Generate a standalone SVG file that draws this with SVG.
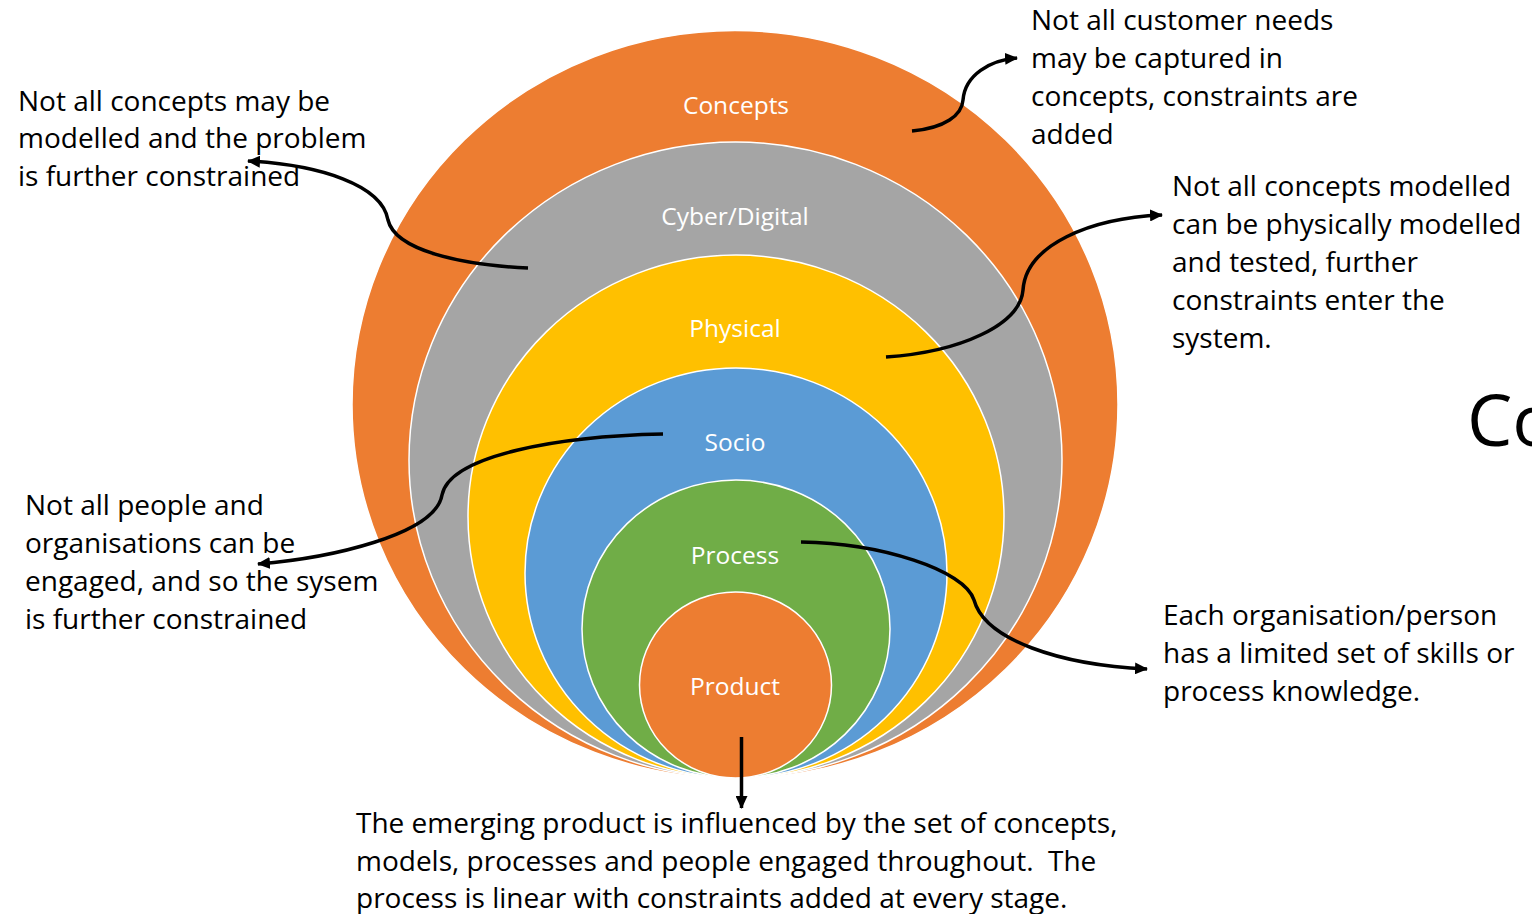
<svg xmlns="http://www.w3.org/2000/svg" width="1532" height="914" viewBox="0 0 1532 914">
<style>
.ring{stroke:#FFFFFF;stroke-width:1.5}
.lbl{font-family:"Open Sans","Liberation Sans",sans-serif;font-size:24.5px;fill:#FFFFFF;text-anchor:middle;dominant-baseline:central}
.note{font-family:"Open Sans","Liberation Sans",sans-serif;font-size:28px;fill:#000000}
.con{fill:none;stroke:#000000;stroke-width:3.5}
</style>
<defs>
<marker id="arr" markerUnits="userSpaceOnUse" markerWidth="14" markerHeight="12" refX="12" refY="6" orient="auto">
<path d="M0,0 L13,6 L0,12 Z" fill="#000000"/>
</marker>
</defs>
<rect width="1532" height="914" fill="#FFFFFF"/>
<g id="concepts">
<ellipse class="ring" cx="735" cy="404.5" rx="383" ry="374" fill="#ED7D31"/>
<text class="lbl" x="736" y="104">Concepts</text>
</g>
<g id="cyber">
<ellipse class="ring" cx="735.5" cy="460" rx="326.5" ry="318" fill="#A5A5A5"/>
<text class="lbl" x="735" y="215">Cyber/Digital</text>
</g>
<g id="physical">
<ellipse class="ring" cx="736" cy="516.5" rx="268" ry="261.5" fill="#FFC000"/>
<text class="lbl" x="735" y="327">Physical</text>
</g>
<g id="socio">
<ellipse class="ring" cx="736" cy="573" rx="211" ry="205" fill="#5B9BD5"/>
<text class="lbl" x="735" y="441">Socio</text>
</g>
<g id="process">
<ellipse class="ring" cx="736" cy="629" rx="154" ry="149" fill="#70AD47"/>
<text class="lbl" x="735" y="554">Process</text>
</g>
<g id="product">
<ellipse class="ring" cx="735.5" cy="685" rx="96" ry="93" fill="#ED7D31"/>
<text class="lbl" x="735" y="685">Product</text>
</g>
<g id="connectors">
<path class="con" marker-end="url(#arr)" d="M912,131 C945,128 962,115 963,100 C965,75 990,60 1017,58"/>
<path class="con" marker-end="url(#arr)" d="M528,268 C460,265 395,250 388,220 C382,185 320,165 248,161"/>
<path class="con" marker-end="url(#arr)" d="M886,357 C960,352 1020,325 1023,290 C1026,245 1090,218 1162,215"/>
<path class="con" marker-end="url(#arr)" d="M663,434 C560,436 450,455 442,495 C435,535 330,558 258,564"/>
<path class="con" marker-end="url(#arr)" d="M801,542 C880,543 965,570 974,600 C985,640 1060,665 1147,669"/>
<path class="con" marker-end="url(#arr)" d="M741.5,737 L741.5,808"/>
</g>
<g id="note-customer">
<text class="note" x="1031" y="30">Not all customer needs</text>
<text class="note" x="1031" y="68">may be captured in</text>
<text class="note" x="1031" y="106">concepts, constraints are</text>
<text class="note" x="1031" y="144">added</text>
</g>
<g id="note-modelled">
<text class="note" x="18" y="111">Not all concepts may be</text>
<text class="note" x="18" y="148">modelled and the problem</text>
<text class="note" x="18" y="186">is further constrained</text>
</g>
<g id="note-physical">
<text class="note" x="1172" y="196">Not all concepts modelled</text>
<text class="note" x="1172" y="234">can be physically modelled</text>
<text class="note" x="1172" y="272">and tested, further</text>
<text class="note" x="1172" y="310">constraints enter the</text>
<text class="note" x="1172" y="348">system.</text>
</g>
<g id="note-people">
<text class="note" x="25" y="515">Not all people and</text>
<text class="note" x="25" y="553">organisations can be</text>
<text class="note" x="25" y="591">engaged, and so the sysem</text>
<text class="note" x="25" y="629">is further constrained</text>
</g>
<g id="note-skills">
<text class="note" x="1163" y="625">Each organisation/person</text>
<text class="note" x="1163" y="663">has a limited set of skills or</text>
<text class="note" x="1163" y="701">process knowledge.</text>
</g>
<g id="note-product">
<text class="note" x="356" y="833">The emerging product is influenced by the set of concepts,</text>
<text class="note" x="356" y="871" xml:space="preserve">models, processes and people engaged throughout.  The</text>
<text class="note" x="356" y="908">process is linear with constraints added at every stage.</text>
</g>
<g id="clipped-title">
<text x="1467" y="446" font-family="Open Sans, Liberation Sans, sans-serif" font-size="72" fill="#000000">Co</text>
</g>
</svg>
